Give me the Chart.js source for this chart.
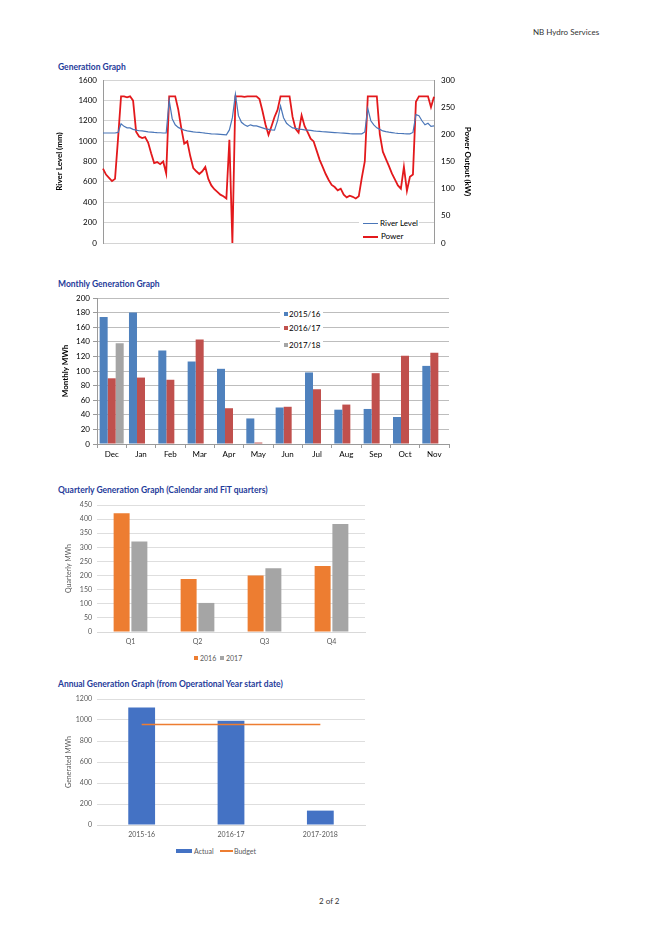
<!DOCTYPE html>
<html>
<head>
<meta charset="utf-8">
<script src="https://cdn.jsdelivr.net/npm/chart.js@4.4.0/dist/chart.umd.min.js"></script>
<style>
body { margin: 0; background: #fff; font-family: Lato, "Open Sans", sans-serif; }
#page { position: relative; width: 659px; height: 933px; overflow: hidden; background: #fff; }
.txt { position: absolute; white-space: nowrap; font-size: 8px; line-height: 10px; color: #222; }
.title { position: absolute; left: 58px; white-space: nowrap; font-weight: bold; font-size: 8.5px; line-height: 10px; color: #1f3c9a; }
canvas { position: absolute; }
.leg { position: absolute; background: #fff; font-size: 8px; line-height: 10px; color: #000; }
.leg div { position: absolute; white-space: nowrap; }
.sw { position: absolute; }
</style>
</head>
<body>
<div id="page">
  <div class="txt" style="left:533px;top:27px;color:#333;">NB Hydro Services</div>

  <div class="title" style="top:62px;">Generation Graph</div>
  <canvas id="genChart" width="425" height="175" style="left:55px;top:74px;"></canvas>
  <div class="leg" style="left:359px;top:215px;width:60px;height:27px;">
    <div class="sw" style="left:4px;top:8px;width:15px;height:1.3px;background:#4a76b8;"></div>
    <div style="left:21px;top:3px;">River Level</div>
    <div class="sw" style="left:4px;top:21px;width:15px;height:1.8px;background:#e3191c;"></div>
    <div style="left:22px;top:16px;">Power</div>
  </div>

  <div class="title" style="top:279px;">Monthly Generation Graph</div>
  <canvas id="monthChart" width="400" height="172" style="left:55px;top:290px;"></canvas>
  <div class="leg" style="left:280px;top:307px;width:43px;height:44px;">
    <div class="sw" style="left:4px;top:5px;width:4px;height:4px;background:#4f81bd;"></div>
    <div style="left:9px;top:2px;">2015/16</div>
    <div class="sw" style="left:4px;top:19px;width:4px;height:4px;background:#c0504d;"></div>
    <div style="left:9px;top:16px;">2016/17</div>
    <div class="sw" style="left:4px;top:36px;width:4px;height:4px;background:#a5a5a5;"></div>
    <div style="left:9px;top:33px;">2017/18</div>
  </div>

  <div class="title" style="top:485px;">Quarterly Generation Graph (Calendar and FiT quarters)</div>
  <canvas id="quarterChart" width="315" height="150" style="left:55px;top:497px;"></canvas>
  <div class="leg" style="left:192px;top:652px;width:55px;height:12px;font-size:7px;color:#595959;">
    <div class="sw" style="left:2px;top:4px;width:4px;height:4px;background:#ed7d31;"></div>
    <div style="left:8px;top:1px;">2016</div>
    <div class="sw" style="left:28px;top:4px;width:4px;height:4px;background:#a5a5a5;"></div>
    <div style="left:34px;top:1px;">2017</div>
  </div>

  <div class="title" style="top:679px;">Annual Generation Graph (from Operational Year start date)</div>
  <canvas id="annualChart" width="315" height="150" style="left:55px;top:691px;"></canvas>
  <div class="leg" style="left:174px;top:845px;width:90px;height:12px;font-size:7px;color:#595959;">
    <div class="sw" style="left:2px;top:4px;width:16px;height:4px;background:#4472c4;"></div>
    <div style="left:20px;top:1px;">Actual</div>
    <div class="sw" style="left:46px;top:5px;width:13px;height:1.5px;background:#ed7d31;"></div>
    <div style="left:60px;top:1px;">Budget</div>
  </div>

  <div class="txt" style="left:319px;top:896px;color:#333;">2 of 2</div>
</div>

<script>
// --- DADOS: Generation Graph (leituras aproximadas do gráfico) ---
const riverLevel = [
  1080,1080,1080,1080,1080,1085,1170,1145,1130,1130,
  1115,1108,1102,1100,1095,1090,1088,1085,1083,1082,
  1080,1080,1400,1220,1160,1135,1120,1108,1100,1095,
  1090,1087,1085,1082,1078,1075,1072,1070,1068,1066,
  1064,1062,1110,1230,1460,1250,1185,1160,1145,1160,
  1150,1150,1140,1130,1120,1115,1110,1108,1200,1345,
  1230,1175,1150,1130,1125,1118,1115,1110,1108,1105,
  1100,1097,1095,1092,1090,1088,1086,1084,1082,1080,
  1078,1076,1073,1072,1071,1071,1072,1090,1320,1200,
  1160,1130,1115,1100,1093,1088,1084,1080,1077,1075,
  1073,1072,1071,1085,1260,1250,1200,1160,1175,1145,
  1150
];
const powerOutput = [
  137,126,120,114,118,192,270,270,268,270,
  262,205,196,193,195,185,165,147,149,145,
  150,128,270,270,270,246,212,183,187,160,
  138,132,127,132,140,118,106,99,94,89,
  86,82,190,0,270,270,270,269,270,270,
  270,270,265,243,218,199,215,232,245,270,
  270,270,270,232,210,203,235,215,204,192,
  187,170,153,140,127,116,107,103,97,100,
  89,84,87,85,82,86,120,150,270,270,
  270,270,200,168,155,142,128,117,106,100,
  140,96,122,126,260,270,270,270,270,250,
  269
];
const genLabels = riverLevel.map((_, i) => String(i + 1));

// --- DADOS: Monthly ---
const months = ['Dec','Jan','Feb','Mar','Apr','May','Jun','Jul','Aug','Sep','Oct','Nov'];
const mwh1516 = [174, 180, 128, 113, 103, 35, 50, 98, 47, 48, 37, 107];
const mwh1617 = [90, 91, 88, 143, 49, 2, 51, 75, 54, 97, 121, 125];
const mwh1718 = [138, null, null, null, null, null, null, null, null, null, null, null];

// --- DADOS: Quarterly ---
const quarters = ['Q1','Q2','Q3','Q4'];
const q2016 = [421, 188, 200, 234];
const q2017 = [321, 103, 226, 383];

// --- DADOS: Annual ---
const years = ['2015-16','2016-17','2017-2018'];
const actual = [1119, 993, 137];
const budget = [958, 958, 958];

Chart.defaults.font.family = 'Lato, "Open Sans", sans-serif';
Chart.defaults.font.size = 8;
Chart.defaults.color = '#000';

const semLegenda = { legend: { display: false }, tooltip: { enabled: false } };
const larguraFixa = (w) => (scale) => { scale.width = w; };
const alturaFixa = (h) => (scale) => { scale.height = h; };
const semVirgula = (v) => String(v);

// --- 1. GENERATION GRAPH ---
new Chart(document.getElementById('genChart'), {
  type: 'line',
  data: {
    labels: genLabels,
    datasets: [
      { label: 'River Level', data: riverLevel, yAxisID: 'yL', borderColor: '#4a76b8', borderWidth: 1.2, pointRadius: 0, fill: false },
      { label: 'Power', data: powerOutput, yAxisID: 'yR', borderColor: '#e3191c', borderWidth: 1.8, pointRadius: 0, fill: false }
    ]
  },
  options: {
    responsive: false, animation: false,
    layout: { padding: { top: 6, bottom: 6, left: 0, right: 6 } },
    plugins: semLegenda,
    scales: {
      x: { display: false },
      yL: {
        position: 'left', min: 0, max: 1600,
        ticks: { stepSize: 200, padding: 1, font: { size: 8 }, color: '#000', callback: semVirgula },
        grid: { color: '#d4d4d4', drawTicks: true, tickLength: 5, tickColor: 'rgba(0,0,0,0)' },
        border: { color: '#9a9a9a' },
        title: { display: true, text: 'River Level (mm)', font: { size: 8, weight: 'bold' }, color: '#000', padding: { top: 0, bottom: 2 } },
        afterFit: larguraFixa(48)
      },
      yR: {
        position: 'right', min: 0, max: 300,
        ticks: { stepSize: 50, padding: 1, font: { size: 8 }, color: '#000', callback: semVirgula },
        grid: { drawOnChartArea: false, drawTicks: true, tickLength: 6, tickColor: 'rgba(0,0,0,0)' },
        border: { color: '#9a9a9a' },
        title: { display: true, text: 'Power Output (kW)', font: { size: 8, weight: 'bold' }, color: '#000', padding: { top: 2, bottom: 0 } },
        afterFit: larguraFixa(40)
      }
    }
  }
});

// --- 2. MONTHLY GENERATION GRAPH ---
new Chart(document.getElementById('monthChart'), {
  type: 'bar',
  data: {
    labels: months,
    datasets: [
      { label: '2015/16', data: mwh1516, backgroundColor: '#4f81bd' },
      { label: '2016/17', data: mwh1617, backgroundColor: '#c0504d' },
      { label: '2017/18', data: mwh1718, backgroundColor: '#a5a5a5' }
    ]
  },
  options: {
    responsive: false, animation: false,
    layout: { padding: { top: 8, right: 6, left: 6, bottom: 0 } },
    plugins: semLegenda,
    datasets: { bar: { categoryPercentage: 0.82, barPercentage: 1.0 } },
    scales: {
      x: {
        ticks: { padding: 2, font: { size: 8 }, color: '#000' },
        grid: { drawOnChartArea: false, drawTicks: true, tickLength: 4, color: '#9a9a9a', offset: true },
        border: { color: '#9a9a9a' },
        afterFit: alturaFixa(18)
      },
      y: {
        min: 0, max: 200,
        ticks: { stepSize: 20, padding: 3, font: { size: 8 }, color: '#000', callback: semVirgula },
        grid: { color: '#bdbdbd', drawTicks: true, tickLength: 4, tickColor: '#9a9a9a' },
        border: { color: '#9a9a9a' },
        title: { display: true, text: 'Monthly MWh', font: { size: 8, weight: 'bold' }, color: '#000', padding: { top: 0, bottom: 2 } },
        afterFit: larguraFixa(36)
      }
    }
  }
});

// --- 3. QUARTERLY GENERATION GRAPH ---
new Chart(document.getElementById('quarterChart'), {
  type: 'bar',
  data: {
    labels: quarters,
    datasets: [
      { label: '2016', data: q2016, backgroundColor: '#ed7d31' },
      { label: '2017', data: q2017, backgroundColor: '#a5a5a5' }
    ]
  },
  options: {
    responsive: false, animation: false,
    layout: { padding: { top: 8, right: 5, left: 10, bottom: 0 } },
    plugins: semLegenda,
    datasets: { bar: { categoryPercentage: 0.53, barPercentage: 0.9 } },
    scales: {
      x: {
        ticks: { padding: 6, font: { size: 7 }, color: '#595959' },
        grid: { drawOnChartArea: false, drawTicks: false },
        border: { color: '#d9d9d9' },
        afterFit: alturaFixa(15)
      },
      y: {
        min: 0, max: 450,
        ticks: { stepSize: 50, padding: 1, font: { size: 7 }, color: '#595959', callback: semVirgula },
        grid: { color: '#dedede', drawTicks: true, tickLength: 4, tickColor: 'rgba(0,0,0,0)' },
        border: { display: false },
        title: { display: true, text: 'Quarterly MWh', font: { size: 7 }, color: '#595959', padding: { top: 0, bottom: 2 } },
        afterFit: larguraFixa(32)
      }
    }
  }
});

// --- 4. ANNUAL GENERATION GRAPH ---
new Chart(document.getElementById('annualChart'), {
  type: 'bar',
  data: {
    labels: years,
    datasets: [
      { type: 'line', label: 'Budget', data: budget, borderColor: '#ed7d31', borderWidth: 1.5, pointRadius: 0, fill: false, order: 0 },
      { type: 'bar', label: 'Actual', data: actual, backgroundColor: '#4472c4', categoryPercentage: 0.3, barPercentage: 1.0, order: 1 }
    ]
  },
  options: {
    responsive: false, animation: false,
    layout: { padding: { top: 8, right: 5, left: 10, bottom: 0 } },
    plugins: semLegenda,
    scales: {
      x: {
        ticks: { padding: 6, font: { size: 7 }, color: '#595959' },
        grid: { drawOnChartArea: false, drawTicks: false, offset: true },
        border: { color: '#d9d9d9' },
        afterFit: alturaFixa(16)
      },
      y: {
        min: 0, max: 1200,
        ticks: { stepSize: 200, padding: 1, font: { size: 7 }, color: '#595959', callback: semVirgula },
        grid: { color: '#dedede', drawTicks: true, tickLength: 4, tickColor: 'rgba(0,0,0,0)' },
        border: { display: false },
        title: { display: true, text: 'Generated MWh', font: { size: 7 }, color: '#595959', padding: { top: 0, bottom: 2 } },
        afterFit: larguraFixa(32)
      }
    }
  }
});
</script>
</body>
</html>
